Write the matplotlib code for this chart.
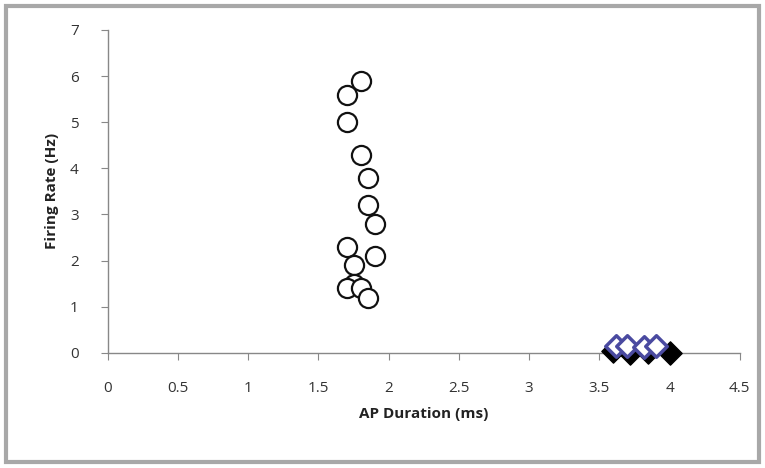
import matplotlib
matplotlib.use("Agg")
import matplotlib.pyplot as plt
from matplotlib.patches import Rectangle

# Data
circle_x = [1.8, 1.7, 1.7, 1.8, 1.85, 1.85, 1.9, 1.7, 1.9, 1.75, 1.75, 1.7, 1.8, 1.85]
circle_y = [5.9, 5.6, 5.0, 4.3, 3.8, 3.2, 2.8, 2.3, 2.1, 1.9, 1.5, 1.4, 1.4, 1.2]
black_x = [3.6, 3.72, 3.85, 4.0]
black_y = [0.05, 0.0, 0.02, 0.0]
blue_x = [3.62, 3.7, 3.82, 3.9]
blue_y = [0.15, 0.15, 0.12, 0.15]
xticks = [0, 0.5, 1, 1.5, 2, 2.5, 3, 3.5, 4, 4.5]
xticklabels = ["0", "0.5", "1", "1.5", "2", "2.5", "3", "3.5", "4", "4.5"]
yticks = [0, 1, 2, 3, 4, 5, 6, 7]

plt.rcParams['font.family'] = ['Open Sans', 'DejaVu Sans']

fig = plt.figure(figsize=(7.65, 4.68), dpi=100)
fig.patches.append(Rectangle((0.008, 0.012), 0.984, 0.975, transform=fig.transFigure,
                             fill=False, edgecolor='#a8a8a8', linewidth=3))
ax = fig.add_axes([0.141, 0.246, 0.826, 0.69])

ax.scatter(black_x, black_y, marker='D', s=140, color='black', zorder=3, clip_on=False)
ax.scatter(blue_x, blue_y, marker='D', s=120, facecolor='white', edgecolor='#4a4aa0', linewidth=2.5, zorder=4, clip_on=False)
ax.scatter(circle_x, circle_y, marker='o', s=190, facecolor='white', edgecolor='#111111', linewidth=1.6, zorder=5, clip_on=False)

ax.set_xlim(0, 4.5)
ax.set_ylim(0, 7)
ax.set_xticks(xticks)
ax.set_xticklabels(xticklabels)
ax.set_yticks(yticks)
for s in ['top', 'right']:
    ax.spines[s].set_visible(False)
for s in ['left', 'bottom']:
    ax.spines[s].set_color('#888888')
    ax.spines[s].set_linewidth(1.0)
ax.tick_params(axis='both', colors='#888888', labelcolor='#333333', labelsize=11, length=5, direction='out')
ax.tick_params(axis='x', pad=15)
ax.tick_params(axis='y', pad=16)
ax.set_xlabel('AP Duration (ms)', fontsize=11, fontweight='bold', color='#222222', labelpad=8)
ax.set_ylabel('Firing Rate (Hz)', fontsize=11, fontweight='bold', color='#222222', labelpad=8)

fig.savefig('out.png', dpi=100)
